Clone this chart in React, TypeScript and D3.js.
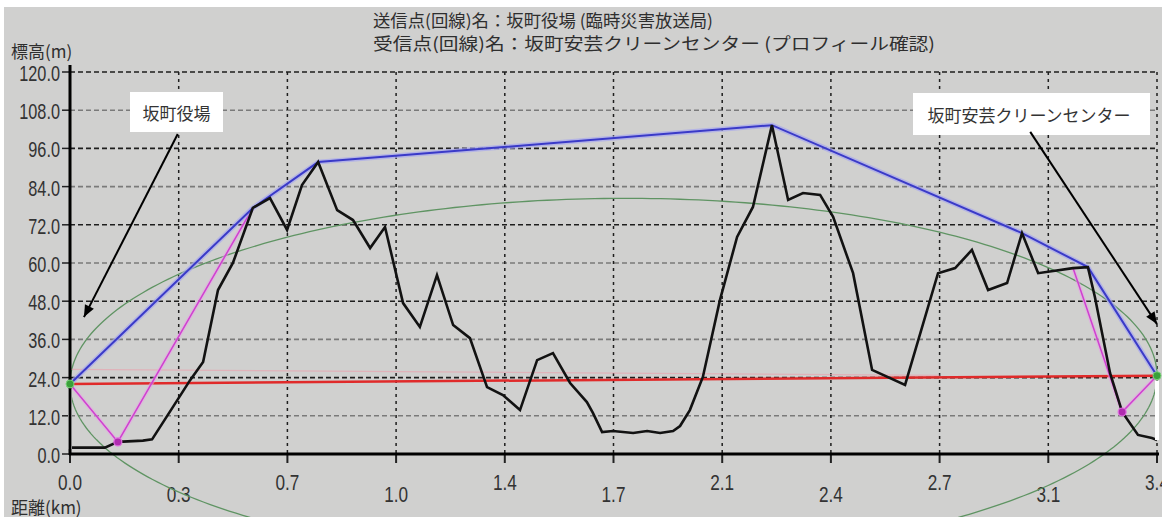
import React from "react";
import * as d3 from "d3";

// Path length between the two stations (km)
const TOTAL_KM = 3.43;
// Antenna tip heights above ground datum (m)
const TX_H = 22.0;
const RX_H = 24.6;
// First Fresnel zone radius at mid-path (m)
const FRESNEL_R = 57;

// Terrain profile along the path
const profileKm = [
  0.0, 0.11, 0.151, 0.23, 0.259, 0.325, 0.379, 0.42, 0.467, 0.514, 0.577, 0.631,
  0.685, 0.732, 0.783, 0.843, 0.893, 0.947, 0.994, 1.051, 1.104, 1.158, 1.209,
  1.262, 1.316, 1.366, 1.42, 1.474, 1.524, 1.578, 1.631, 1.65, 1.679, 1.713,
  1.777, 1.821, 1.862, 1.903, 1.925, 1.956, 1.997, 2.051, 2.105, 2.155, 2.215,
  2.266, 2.313, 2.367, 2.408, 2.471, 2.531, 2.635, 2.739, 2.793, 2.846, 2.897,
  2.957, 3.004, 3.055, 3.165, 3.212, 3.234, 3.282, 3.32, 3.37, 3.414, 3.43,
];
const profileM = [
  2.0, 2.0, 3.8, 4.2, 4.6, 14.8, 23.2, 28.9, 51.5, 60.0, 77.3, 80.4,
  70.4, 84.5, 91.7, 76.6, 73.5, 64.7, 71.3, 47.4, 39.9, 56.2, 40.5,
  36.4, 21.0, 18.5, 13.8, 29.5, 31.7, 22.3, 16.3, 12.9, 6.9, 7.2,
  6.6, 7.2, 6.6, 7.2, 8.8, 13.8, 24.2, 48.4, 68.2, 77.6, 103.3,
  79.8, 82.0, 81.4, 74.5, 56.8, 26.4, 21.7, 56.8, 58.4, 64.1, 51.5,
  53.7, 69.4, 56.8, 58.4, 58.7, 49.3, 25.4, 13.2, 6.0, 5.0, 4.4,
];

// Ground-reflection paths (antenna -> reflection point -> obstruction)
const reflectLeftKm = [0.0, 0.151, 0.577];
const reflectLeftM = [TX_H, 3.8, 77.3];
const reflectRightKm = [TOTAL_KM, 3.32, 3.165];
const reflectRightM = [RX_H, 13.2, 58.4];

// Axis labels
const yTickValues = [0, 12, 24, 36, 48, 60, 72, 84, 96, 108, 120];
const yTickLabels = ["0.0", "12.0", "24.0", "36.0", "48.0", "60.0", "72.0", "84.0", "96.0", "108.0", "120.0"];
const xTickLabels = ["0.0", "0.3", "0.7", "1.0", "1.4", "1.7", "2.1", "2.4", "2.7", "3.1", "3.4"];

const titleLines = [
  "送信点(回線)名：坂町役場 (臨時災害放送局)",
  "受信点(回線)名：坂町安芸クリーンセンター (プロフィール確認)",
];
const txName = "坂町役場";
const rxName = "坂町安芸クリーンセンター";

const W = 1162;
const H = 517;
const NUM_FONT = "'Liberation Sans', Arial, sans-serif";
const JP_FONT = "'Noto Sans CJK JP', 'Noto Sans', sans-serif";

export default function App() {
  const x = d3.scaleLinear().domain([0, TOTAL_KM]).range([70, 1157]);
  const y = d3.scaleLinear().domain([0, 120]).range([454, 72]);

  const terrain: [number, number][] = profileKm.map((k, i) => [k, profileM[i]]);
  const line = d3
    .line<[number, number]>()
    .x((d) => x(d[0]))
    .y((d) => y(d[1]));

  // Upper convex hull over the terrain and both antenna tips
  const hullPts: [number, number][] = [
    [0, TX_H],
    ...terrain.filter((d) => d[0] > 0 && d[0] < TOTAL_KM),
    [TOTAL_KM, RX_H],
  ];
  const hull: [number, number][] = [];
  for (const p of hullPts) {
    while (hull.length >= 2) {
      const o = hull[hull.length - 2];
      const a = hull[hull.length - 1];
      const cr = (a[0] - o[0]) * (p[1] - o[1]) - (a[1] - o[1]) * (p[0] - o[0]);
      if (cr >= 0) hull.pop();
      else break;
    }
    hull.push(p);
  }

  // Fresnel ellipse around the line of sight
  const los = (k: number) => TX_H + ((RX_H - TX_H) * k) / TOTAL_KM;
  const ellipse: [number, number][] = d3.range(0, 361).map((deg) => {
    const th = (deg * Math.PI) / 180;
    const k = TOTAL_KM / 2 - (TOTAL_KM / 2) * Math.cos(th);
    return [k, los(k) + FRESNEL_R * Math.sin(th)];
  });

  const reflL: [number, number][] = reflectLeftKm.map((k, i) => [k, reflectLeftM[i]]);
  const reflR: [number, number][] = reflectRightKm.map((k, i) => [k, reflectRightM[i]]);

  const xTicks = xTickLabels.map((_, i) => (i * TOTAL_KM) / 10);

  const arrowHead = (x1: number, y1: number, x2: number, y2: number) => {
    const ang = Math.atan2(y2 - y1, x2 - x1);
    const L = 12;
    const wv = 5;
    const bx = x2 - L * Math.cos(ang);
    const by = y2 - L * Math.sin(ang);
    const px = -Math.sin(ang) * wv;
    const py = Math.cos(ang) * wv;
    return `M${x2},${y2}L${bx + px},${by + py}L${bx - px},${by - py}Z`;
  };

  // Annotation arrows in data units
  const txArrow = { x1: x(0.34), y1: y(100.5), x2: x(0.044), y2: y(43) };
  const rxArrow = { x1: x(3.03), y1: y(101.2), x2: x(TOTAL_KM), y2: y(40.8) };

  return (
    <svg
      width={W}
      height={H}
      style={{ position: "absolute", left: 0, top: 0, display: "block" }}
    >
      <rect x={0} y={0} width={W} height={H} fill="#ffffff" />
      <rect x={4} y={7} width={W - 4} height={H - 7} fill="#d0d0cf" />

      {/* title */}
      {titleLines.map((t, i) => (
        <text
          key={t}
          x={373}
          y={19 + i * 23}
          dominantBaseline="central"
          fontFamily={JP_FONT}
          fontSize={17}
          fill="#2e2e2e"
          textLength={i === 0 ? 340 : 562}
          lengthAdjust="spacingAndGlyphs"
        >
          {t}
        </text>
      ))}

      {/* axis titles */}
      <text x={11} y={50} dominantBaseline="central" fontFamily={JP_FONT} fontSize={17} fill="#2e2e2e">
        標高(m)
      </text>
      <text x={11} y={506} dominantBaseline="central" fontFamily={JP_FONT} fontSize={17} fill="#2e2e2e">
        距離(km)
      </text>

      {/* horizontal grid */}
      {yTickValues.slice(1).map((v) => (
        <line
          key={"hg" + v}
          x1={x(0)}
          x2={x(TOTAL_KM)}
          y1={y(v)}
          y2={y(v)}
          stroke={v % 24 === 0 ? "#1e1e1e" : "#7a7a7a"}
          strokeWidth={1.6}
          strokeDasharray="5,3"
        />
      ))}
      {/* vertical grid */}
      {xTicks.slice(1).map((v, i) => (
        <line
          key={"vg" + i}
          x1={x(v)}
          x2={x(v)}
          y1={y(120)}
          y2={y(0)}
          stroke="#1e1e1e"
          strokeWidth={1.5}
          strokeDasharray="3,4"
        />
      ))}

      {/* y tick labels */}
      {yTickValues.map((v, i) => (
        <g key={"yl" + v}>
          <line x1={62} x2={69} y1={y(v)} y2={y(v)} stroke="#222" strokeWidth={1.5} />
          <text
            transform={`translate(60,${y(v) + 1}) scale(0.74,1)`}
            textAnchor="end"
            dominantBaseline="central"
            fontFamily={NUM_FONT}
            fontSize={22}
            fill="#333"
          >
            {yTickLabels[i]}
          </text>
        </g>
      ))}

      {/* x tick labels */}
      {xTicks.map((v, i) => (
        <g key={"xl" + i}>
          <line x1={x(v)} x2={x(v)} y1={454} y2={463} stroke="#222" strokeWidth={2} />
          <text
            transform={`translate(${x(v)},${i % 2 === 0 ? 482 : 494}) scale(0.78,1)`}
            textAnchor="middle"
            dominantBaseline="central"
            fontFamily={NUM_FONT}
            fontSize={22}
            fill="#333"
          >
            {xTickLabels[i]}
          </text>
        </g>
      ))}

      {/* Fresnel zone */}
      <path d={line(ellipse) + "Z"} fill="none" stroke="#5f9463" strokeWidth={1.3} />

      {/* line of sight */}
      <line
        x1={x(0)}
        x2={x(TOTAL_KM * 0.8)}
        y1={y(TX_H + 4.6)}
        y2={y(los(TOTAL_KM * 0.8) + 0.6)}
        stroke="#ee9aa8"
        strokeWidth={1.2}
        opacity={0.55}
      />
      <line
        x1={x(0)}
        x2={x(TOTAL_KM)}
        y1={y(TX_H)}
        y2={y(RX_H)}
        stroke="#e02a2a"
        strokeWidth={2.5}
      />

      {/* reflection paths */}
      <path d={line(reflL) ?? ""} fill="none" stroke="#e8a0e8" strokeWidth={4} opacity={0.55} />
      <path d={line(reflR) ?? ""} fill="none" stroke="#e8a0e8" strokeWidth={4} opacity={0.55} />
      <path d={line(reflL) ?? ""} fill="none" stroke="#d040d0" strokeWidth={1.5} />
      <path d={line(reflR) ?? ""} fill="none" stroke="#d040d0" strokeWidth={1.5} />

      {/* convex envelope */}
      <path d={line(hull) ?? ""} fill="none" stroke="#a8a8ee" strokeWidth={5} opacity={0.7} />
      <path d={line(hull) ?? ""} fill="none" stroke="#3a3ac8" strokeWidth={2} />

      {/* terrain */}
      <path
        d={line(terrain) ?? ""}
        fill="none"
        stroke="#121212"
        strokeWidth={2.6}
        strokeLinejoin="miter"
      />

      {/* antenna masts */}
      <line x1={x(0)} x2={x(0)} y1={y(TX_H) + 5} y2={y(0) - 5} stroke="#ffffff" strokeWidth={4} />
      <line x1={x(TOTAL_KM)} x2={x(TOTAL_KM)} y1={y(RX_H) + 5} y2={y(0) - 14} stroke="#ffffff" strokeWidth={4} />

      {/* axes */}
      <line x1={70} x2={70} y1={65} y2={455} stroke="#000" strokeWidth={3} />
      <line x1={69} x2={1159} y1={454} y2={454} stroke="#000" strokeWidth={3} />

      {/* markers */}
      {[reflL[1], reflR[1]].map((p, i) => (
        <circle key={"rp" + i} cx={x(p[0])} cy={y(p[1])} r={4} fill="#b02cb0" stroke="#e070e0" strokeWidth={1.2} />
      ))}
      <circle cx={x(0)} cy={y(TX_H)} r={4} fill="#3aa03a" stroke="#7ad07a" strokeWidth={1} />
      <circle cx={x(TOTAL_KM)} cy={y(RX_H)} r={4} fill="#3aa03a" stroke="#7ad07a" strokeWidth={1} />

      {/* station annotations */}
      <rect x={130} y={92} width={93} height={40} fill="#ffffff" />
      <text x={176.5} y={112} textAnchor="middle" dominantBaseline="central" fontFamily={JP_FONT} fontSize={17} fill="#333">
        {txName}
      </text>
      <line x1={txArrow.x1} y1={txArrow.y1} x2={txArrow.x2} y2={txArrow.y2} stroke="#000" strokeWidth={2} />
      <path d={arrowHead(txArrow.x1, txArrow.y1, txArrow.x2, txArrow.y2)} fill="#000" />

      <rect x={913} y={93} width={237} height={42} fill="#ffffff" />
      <text x={1029} y={114} textAnchor="middle" dominantBaseline="central" fontFamily={JP_FONT} fontSize={17} fill="#333">
        {rxName}
      </text>
      <line x1={rxArrow.x1} y1={rxArrow.y1} x2={rxArrow.x2} y2={rxArrow.y2} stroke="#000" strokeWidth={2} />
      <path d={arrowHead(rxArrow.x1, rxArrow.y1, rxArrow.x2, rxArrow.y2)} fill="#000" />
    </svg>
  );
}
